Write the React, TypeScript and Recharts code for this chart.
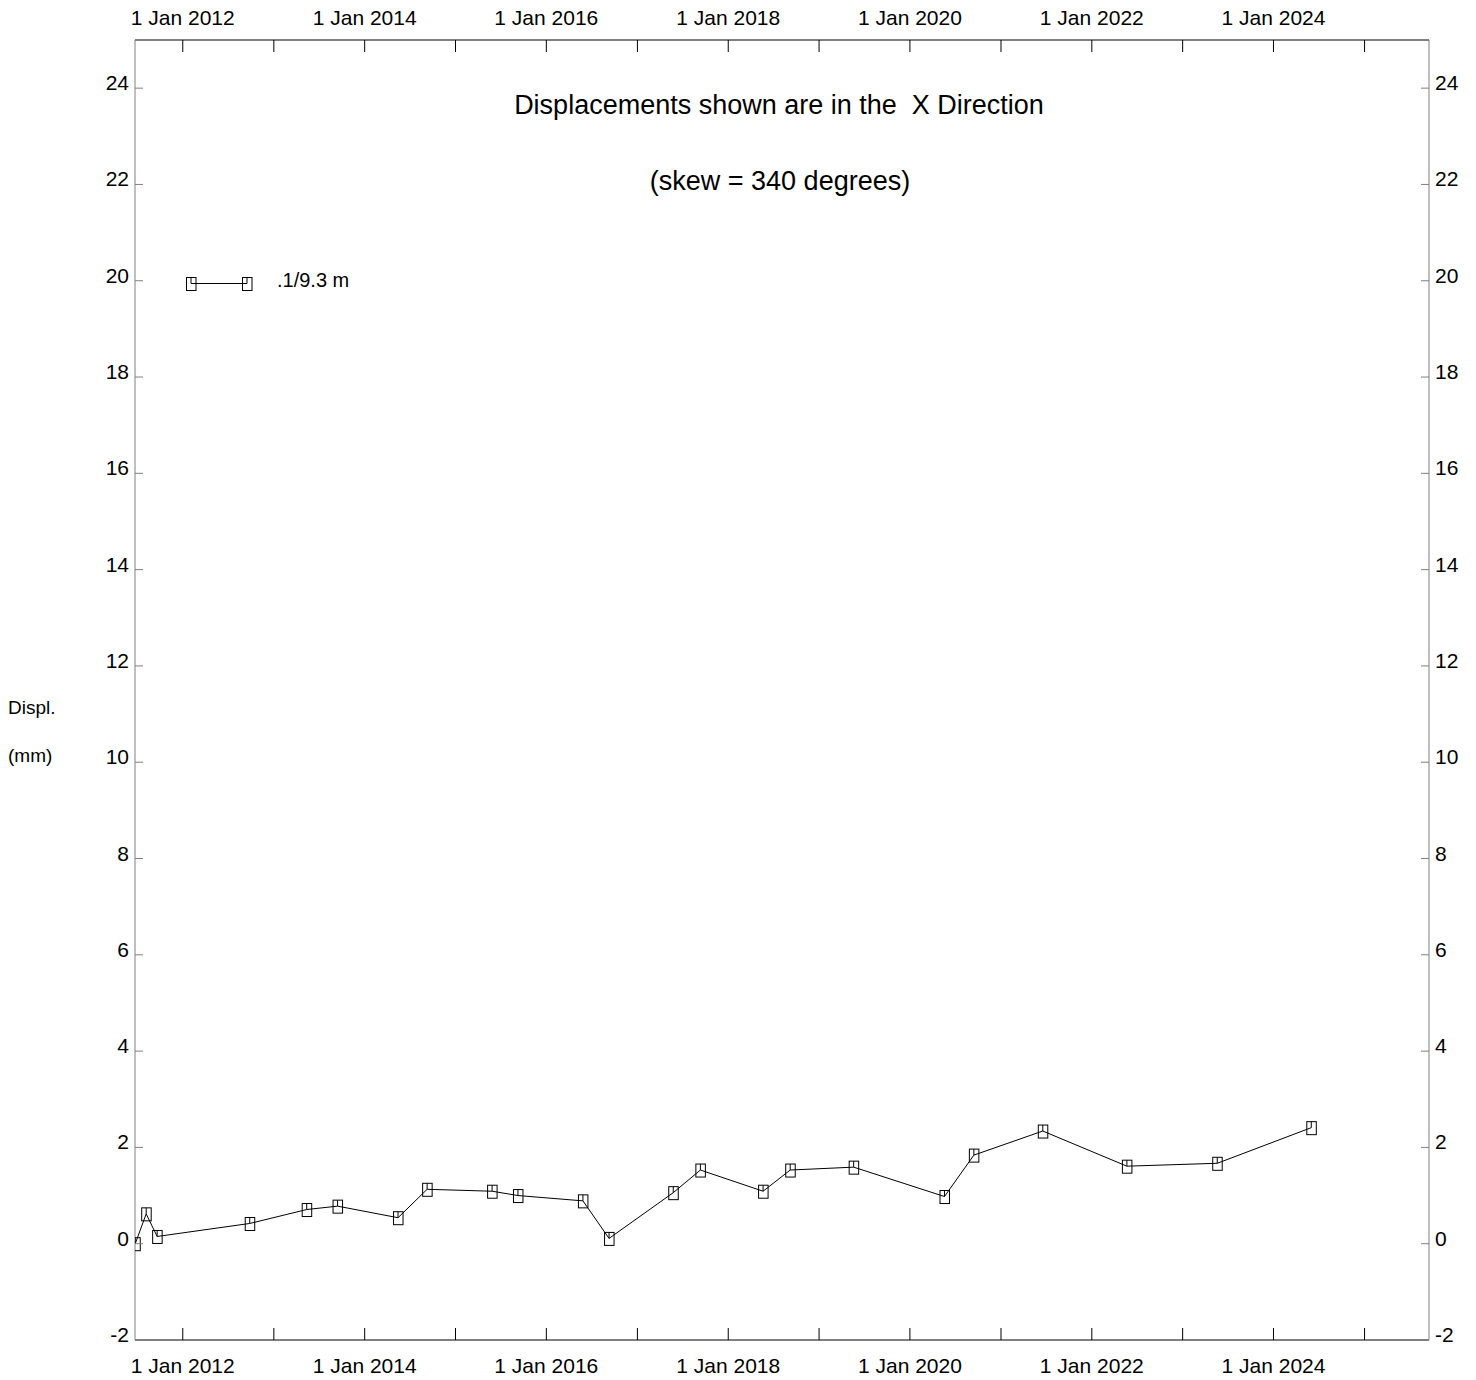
import React from 'react'
import { LineChart, Line, XAxis, YAxis } from 'recharts'

// survey dates and X-direction displacement (mm) for the .1/9.3 m reading
const readingDates = [
  '2011-06-24', '2011-08-07', '2011-09-20', '2012-09-26', '2013-05-13', '2013-09-14',
  '2014-05-15', '2014-09-09', '2015-05-28', '2015-09-09', '2016-05-27', '2016-09-09',
  '2017-05-25', '2017-09-11', '2018-05-21', '2018-09-07', '2019-05-20', '2020-05-19',
  '2020-09-14', '2021-06-18', '2022-05-22', '2023-05-20', '2024-06-01',
]
const displX = [
  0, 0.62, 0.15, 0.42, 0.71, 0.78,
  0.54, 1.13, 1.09, 1.0, 0.89, 0.11,
  1.06, 1.53, 1.09, 1.53, 1.59, 0.98,
  1.84, 2.34, 1.61, 1.67, 2.41,
]
const yTicks = [-2, 0, 2, 4, 6, 8, 10, 12, 14, 16, 18, 20, 22, 24]
const yDomain = [-2, 25]
const tickYears = [2012, 2013, 2014, 2015, 2016, 2017, 2018, 2019, 2020, 2021, 2022, 2023, 2024, 2025]
const labelledYears = [2012, 2014, 2016, 2018, 2020, 2022, 2024]
const dateRange = ['2011-06-23', '2025-09-17']
const seriesName = '.1/9.3 m'

const MONTHS = ['Jan', 'Feb', 'Mar', 'Apr', 'May', 'Jun', 'Jul', 'Aug', 'Sep', 'Oct', 'Nov', 'Dec']
const FONT = '"Liberation Sans", Arial, sans-serif'

const toMs = (s: string) => Date.parse(s + 'T00:00:00Z')
const fmtDate = (ms: number) => {
  const d = new Date(ms)
  return `${d.getUTCDate()} ${MONTHS[d.getUTCMonth()]} ${d.getUTCFullYear()}`
}

const data = readingDates.map((d, i) => ({ t: toMs(d), v: displX[i] }))
const xTicks = tickYears.map((y) => Date.UTC(y, 0, 1))
const xDomain = dateRange.map(toMs)

const X_GAP = 10
const Y_GAP = 6

function SquareDot({ cx, cy }: any) {
  if (cx == null || cy == null) return null
  return (
    <g>
      <rect x={cx - 4.5} y={cy - 6} width={9.5} height={13} fill="none" stroke="#000" strokeWidth={1} />
      <line x1={cx} x2={cx} y1={cy - 6} y2={cy} stroke="#000" strokeWidth={1} />
    </g>
  )
}

function DateTick({ x, y, payload, side }: any) {
  const year = new Date(payload.value).getUTCFullYear()
  const dir = side === 'top' ? 1 : -1
  const axisY = y + dir * X_GAP
  return (
    <g>
      <line x1={x} x2={x} y1={axisY} y2={axisY + dir * 12} stroke="#000" strokeWidth={1} />
      {labelledYears.includes(year) && (
        <text x={x} y={y} dy={side === 'top' ? -5 : 23} textAnchor="middle" fontSize={21} fontFamily={FONT} fill="#000">
          {fmtDate(payload.value)}
        </text>
      )}
    </g>
  )
}

function DisplTick({ x, y, payload, side }: any) {
  const dir = side === 'left' ? 1 : -1
  const axisX = x + dir * Y_GAP
  return (
    <g>
      <line x1={axisX} x2={axisX + dir * 8} y1={y} y2={y} stroke="#808080" strokeWidth={1} />
      <text x={x} y={y} dy={2} textAnchor={side === 'left' ? 'end' : 'start'} fontSize={21} fontFamily={FONT} fill="#000">
        {payload.value}
      </text>
    </g>
  )
}

export default function App() {
  return (
    <div style={{ position: 'absolute', left: 0, top: 0, width: 1476, height: 1380, background: '#fff' }}>
      <LineChart width={1476} height={1380} data={data} margin={{ top: 10, right: 7, bottom: 10, left: 75 }}>
        <XAxis
          xAxisId="bottom"
          dataKey="t"
          type="number"
          domain={xDomain}
          allowDataOverflow
          ticks={xTicks}
          interval={0}
          height={30}
          tickSize={0}
          tickMargin={X_GAP}
          axisLine={{ stroke: '#000' }}
          tick={<DateTick side="bottom" />}
        />
        <XAxis
          xAxisId="top"
          orientation="top"
          dataKey="t"
          type="number"
          domain={xDomain}
          allowDataOverflow
          ticks={xTicks}
          interval={0}
          height={30}
          tickSize={0}
          tickMargin={X_GAP}
          axisLine={{ stroke: '#000' }}
          tick={<DateTick side="top" />}
        />
        <YAxis
          yAxisId="left"
          type="number"
          domain={yDomain}
          allowDataOverflow
          ticks={yTicks}
          interval={0}
          width={60}
          tickSize={0}
          tickMargin={Y_GAP}
          axisLine={{ stroke: '#808080' }}
          tick={<DisplTick side="left" />}
        />
        <YAxis
          yAxisId="right"
          orientation="right"
          type="number"
          domain={yDomain}
          allowDataOverflow
          ticks={yTicks}
          interval={0}
          width={40}
          tickSize={0}
          tickMargin={Y_GAP}
          axisLine={{ stroke: '#808080' }}
          tick={<DisplTick side="right" />}
        />
        <Line
          xAxisId="bottom"
          yAxisId="left"
          dataKey="v"
          name={seriesName}
          stroke="#000"
          strokeWidth={1}
          dot={<SquareDot />}
          activeDot={false}
          isAnimationActive={false}
        />
      </LineChart>
      <svg
        width={1476}
        height={1380}
        style={{ position: 'absolute', left: 0, top: 0, pointerEvents: 'none' }}
        fontFamily={FONT}
      >
        <text x={779} y={114} textAnchor="middle" fontSize={27} fill="#000" style={{ whiteSpace: 'pre' }}>
          Displacements shown are in the  X Direction
        </text>
        <text x={780} y={190} textAnchor="middle" fontSize={27} fill="#000">
          (skew = 340 degrees)
        </text>
        <text x={8} y={714} fontSize={19} fill="#000">Displ.</text>
        <text x={8} y={762} fontSize={19} fill="#000">(mm)</text>
        <g>
          <line x1={191} x2={247} y1={283.5} y2={283.5} stroke="#000" strokeWidth={1} />
          <SquareDot cx={191} cy={283.5} />
          <SquareDot cx={247} cy={283.5} />
          <text x={277} y={287} fontSize={20} fill="#000">{seriesName}</text>
        </g>
      </svg>
    </div>
  )
}
